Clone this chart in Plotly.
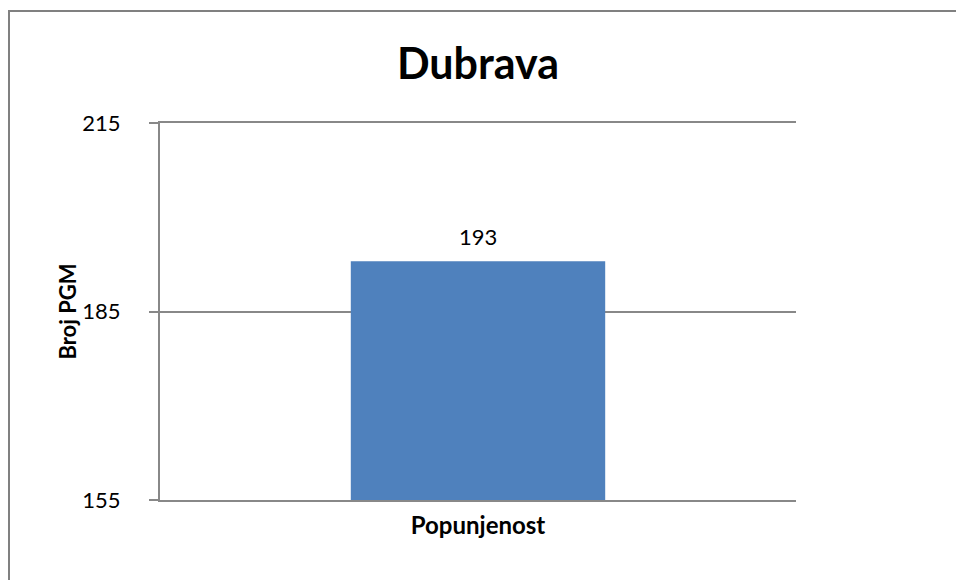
import plotly.graph_objects as go

categories = ["Popunjenost"]
values = [193]
y_ticks = [155, 185, 215]
title_text = "Dubrava"
y_title = "Broj PGM"

FONT = "Lato, Carlito, Calibri, 'Open Sans', sans-serif"

fig = go.Figure()
fig.add_trace(go.Bar(
    x=categories, y=values,
    marker=dict(color="#4F81BD", line=dict(width=0)),
    width=0.4,
    hoverinfo="x+y",
))
for c, v in zip(categories, values):
    fig.add_annotation(x=c, y=v, text=str(v), showarrow=False,
                       yanchor="middle", yshift=25,
                       font=dict(family=FONT, size=22, color="#000000"))

W, H = 956, 580
l, r, t, b = 160, 160, 123, 80
pw = W - l - r
ph = H - t - b

fig.update_layout(
    width=W, height=H,
    margin=dict(l=l, r=r, t=t, b=b),
    paper_bgcolor="white", plot_bgcolor="white",
    showlegend=False,
    title=dict(text="<b>" + title_text + "</b>", x=0.5, xanchor="center",
               y=1 - 64 / H, yanchor="middle",
               font=dict(family=FONT, size=43, color="#000000")),
    font=dict(family=FONT, color="#000000"),
)
fig.update_yaxes(
    range=[155, 215], tickvals=y_ticks,
    showgrid=True, gridcolor="#888888", gridwidth=2,
    showline=True, linecolor="#888888", linewidth=2,
    ticks="outside", ticklen=9, tickcolor="#888888", tickwidth=2,
    ticklabelstandoff=24,
    tickfont=dict(family=FONT, size=22, color="#000000"),
    title=dict(text="<b>" + y_title + "</b>", font=dict(family=FONT, size=22, color="#000000"), standoff=0),
    zeroline=False,
)
fig.update_xaxes(
    showline=True, mirror=True, linecolor="#888888", linewidth=2,
    showgrid=False, ticks="", ticklabelstandoff=3,
    tickfont=dict(family=FONT, size=24, color="#000000"),
    tickprefix="<b>", ticksuffix="</b>",
)
# outer chart frame (Excel-style chart border)
fig.add_shape(type="rect", xref="paper", yref="paper",
              x0=(9 - l) / pw, x1=1 + (W + 20 - (W - r)) / pw,
              y0=-(b + 20) / ph, y1=1 + (t - 11) / ph,
              line=dict(color="#808080", width=2), fillcolor="rgba(0,0,0,0)", layer="below")

fig.write_html("out.html", config={"displayModeBar": False},
               post_script="document.body.style.margin='0px';document.body.style.overflow='hidden';")
